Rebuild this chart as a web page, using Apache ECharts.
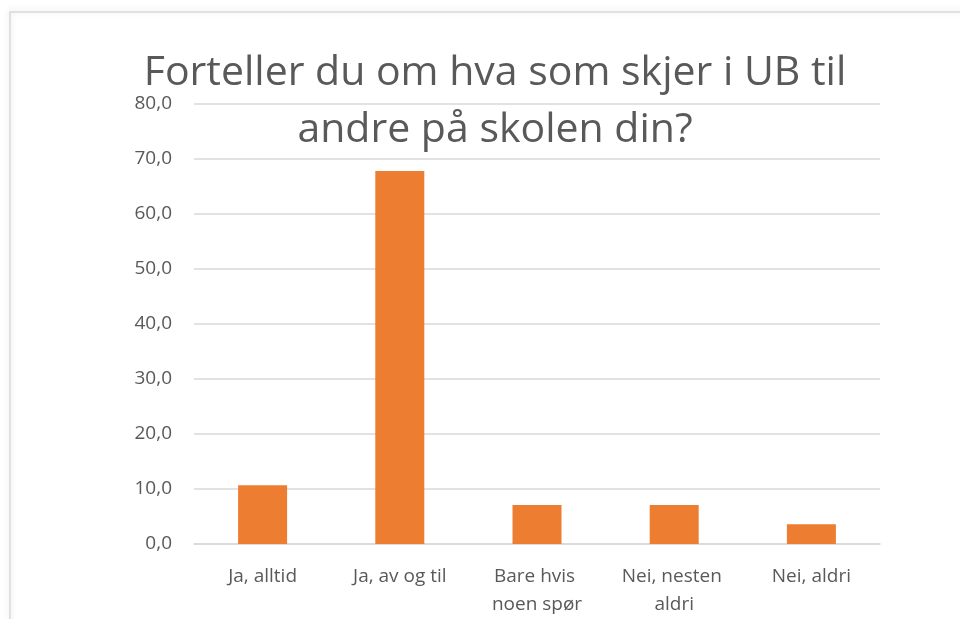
<!DOCTYPE html>
<html>
<head>
<meta charset="utf-8">
<script src="https://cdn.jsdelivr.net/npm/echarts@6/dist/echarts.min.js"></script>
<style>
  html, body { margin: 0; padding: 0; background: #fff; }
  #chart { width: 960px; height: 619px; }
</style>
</head>
<body>
<div id="chart"></div>
<script>
// data
var categories = ['Ja, alltid', 'Ja, av og til', 'Bare hvis noen spør', 'Nei, nesten aldri', 'Nei, aldri'];
var values = [10.7, 67.8, 7.1, 7.1, 3.6];
var titleLines = ['Forteller du om hva som skjer i UB til', 'andre på skolen din?'];

var textColor = '#595959';
var chart = echarts.init(document.getElementById('chart'));

var option = {
  backgroundColor: '#fff',
  textStyle: { fontFamily: 'Open Sans' },
  title: {
    text: titleLines.join('\n'),
    left: 490,
    textAlign: 'center',
    top: 40,
    textStyle: {
      fontFamily: 'Open Sans',
      fontSize: 41,
      fontWeight: 'normal',
      color: textColor,
      lineHeight: 57
    }
  },
  graphic: [
    {
      type: 'rect',
      shape: { x: 10, y: 12, width: 1000, height: 700 },
      style: { fill: 'none', stroke: '#d9d9d9', lineWidth: 1.5, shadowBlur: 6, shadowColor: 'rgba(0,0,0,0.15)', shadowOffsetY: -1 },
      z: -1
    }
  ],
  grid: { left: 194, right: 80, top: 104, bottom: 70 },
  xAxis: {
    type: 'category',
    data: categories,
    axisLine: { lineStyle: { color: '#d9d9d9', width: 1.5 } },
    axisTick: { show: false },
    axisLabel: {
      color: textColor,
      fontSize: 19,
      interval: 0,
      margin: 19,
      width: 125,
      overflow: 'break',
      lineHeight: 28
    }
  },
  yAxis: {
    type: 'value',
    min: 0,
    max: 80,
    interval: 10,
    axisLine: { show: false },
    axisTick: { show: false },
    splitLine: { lineStyle: { color: '#d9d9d9', width: 1.5 } },
    axisLabel: {
      color: textColor,
      fontSize: 19,
      margin: 22,
      formatter: function (v) { return v.toFixed(1).replace('.', ','); }
    }
  },
  series: [
    {
      type: 'bar',
      data: values,
      barWidth: 49,
      itemStyle: { color: '#ED7D31' }
    }
  ]
};

chart.setOption(option);
</script>
</body>
</html>
